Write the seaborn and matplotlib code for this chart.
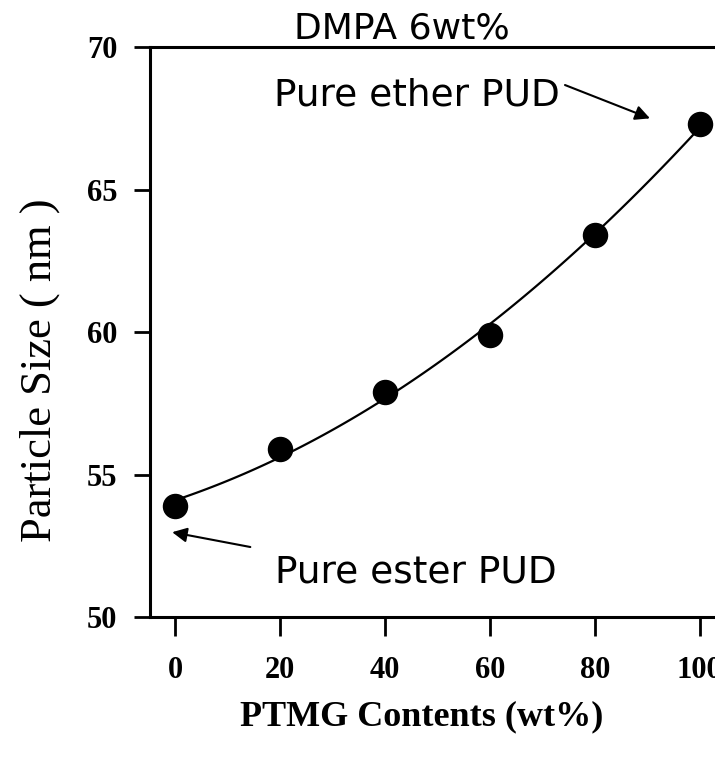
import matplotlib
matplotlib.use("Agg")
import matplotlib.pyplot as plt
import seaborn as sns
import pandas as pd
import numpy as np

ptmg = [0, 20, 40, 60, 80, 100]
size_nm = [53.9, 55.9, 57.9, 59.9, 63.4, 67.3]
xticks = [0, 20, 40, 60, 80, 100]
yticks = [50, 55, 60, 65, 70]

df = pd.DataFrame({"PTMG": ptmg, "Size": size_nm})

sns.set_theme(style="ticks")
plt.rcParams["font.family"] = ["Liberation Serif", "DejaVu Serif"]
plt.rcParams["text.color"] = "black"
plt.rcParams["axes.labelcolor"] = "black"
plt.rcParams["xtick.color"] = "black"
plt.rcParams["ytick.color"] = "black"

fig = plt.figure(figsize=(7.15, 7.6), dpi=100)
ax = fig.add_axes([0.21, 0.188, 0.79, 0.75])

sns.regplot(data=df, x="PTMG", y="Size", order=2, ci=None, ax=ax,
            scatter_kws=dict(s=300, color="black", edgecolor="black", alpha=1, zorder=3),
            line_kws=dict(color="black", lw=1.6))

ax.set_xlim(-4.8, 102.9)
ax.set_ylim(50, 70)
ax.set_xticks(xticks)
ax.set_yticks(yticks)
ax.set_xticklabels([str(t) for t in xticks], fontsize=22, fontweight="bold")
ax.set_yticklabels([str(t) for t in yticks], fontsize=22, fontweight="bold")
ax.tick_params(axis="x", direction="out", length=14, width=2, pad=14)
ax.tick_params(axis="y", direction="out", length=11.5, width=2, pad=12)
for s in ["left", "bottom", "top"]:
    ax.spines[s].set_linewidth(2.2)
    ax.spines[s].set_color("black")
ax.spines["right"].set_visible(False)

ax.set_xlabel("PTMG Contents (wt%)", fontsize=26, fontweight="bold")
ax.xaxis.set_label_coords(0.481, -0.146)
ax.set_ylabel("Particle Size ( nm )", fontsize=32)
ax.yaxis.set_label_coords(-0.159, 0.433)

sansf = ["DejaVu Sans"]
fig.text(0.562, 0.963, "DMPA 6wt%", ha="center", va="center", fontsize=26,
         family=sansf)

ax.text(73.3, 68.3, "Pure ether PUD", ha="right", va="center", fontsize=27,
        family=sansf)
ax.annotate("", xy=(90.5, 67.5), xytext=(74.3, 68.67),
            arrowprops=dict(arrowstyle="-|>", color="black", lw=1.5, mutation_scale=22,
                            shrinkA=0, shrinkB=0))

ax.text(19.0, 51.58, "Pure ester PUD", ha="left", va="center", fontsize=27,
        family=sansf)
ax.annotate("", xy=(-0.6, 52.98), xytext=(14.3, 52.46),
            arrowprops=dict(arrowstyle="-|>", color="black", lw=1.5, mutation_scale=22,
                            shrinkA=0, shrinkB=0))

fig.savefig("out.png", dpi=100, facecolor="white")
